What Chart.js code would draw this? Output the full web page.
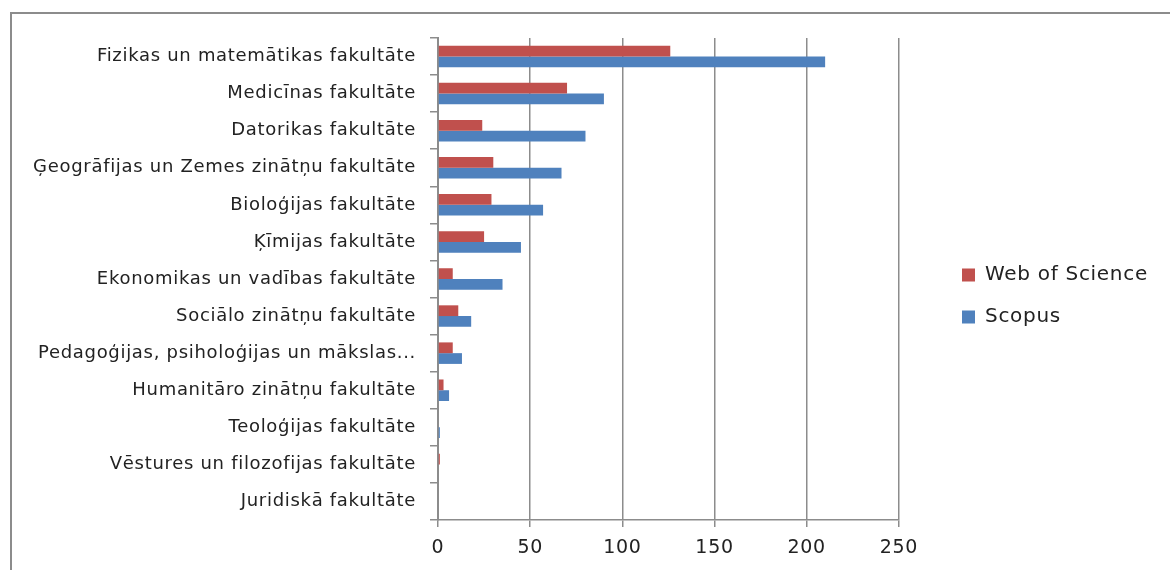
<!DOCTYPE html>
<html>
<head>
<meta charset="utf-8">
<script src="https://cdn.jsdelivr.net/npm/chart.js@4/dist/chart.umd.min.js"></script>
<style>
  html, body { margin: 0; padding: 0; background: #fff; overflow: hidden; }
  #wrap { position: relative; width: 1170px; height: 570px; }
  #c { position: absolute; left: 0; top: 0; }
  #frame { position: absolute; left: 10px; top: 12px; width: 1200px; height: 600px;
           border-top: 2px solid #8c8c8c; border-left: 2px solid #8c8c8c; pointer-events: none; }
</style>
</head>
<body>
<div id="wrap">
  <canvas id="c" width="1170" height="570"></canvas>
  <div id="frame"></div>
</div>
<script>
const categories = [
  "Fizikas un matemātikas fakultāte",
  "Medicīnas fakultāte",
  "Datorikas fakultāte",
  "Ģeogrāfijas un Zemes zinātņu fakultāte",
  "Bioloģijas fakultāte",
  "Ķīmijas fakultāte",
  "Ekonomikas un vadības fakultāte",
  "Sociālo zinātņu fakultāte",
  "Pedagoģijas, psiholoģijas un mākslas...",
  "Humanitāro zinātņu fakultāte",
  "Teoloģijas fakultāte",
  "Vēstures un filozofijas fakultāte",
  "Juridiskā fakultāte"
];
const webOfScience = [126, 70, 24, 30, 29, 25, 8, 11, 8, 3, 0, 1, 0];
const scopus = [210, 90, 80, 67, 57, 45, 35, 18, 13, 6, 1, 0, 0];
const xTicks = [0, 50, 100, 150, 200, 250];

const FONT = "'DejaVu Sans', 'Open Sans', sans-serif";

const legendShift = {
  id: 'legendShift',
  beforeLayout(chart) {
    if ('letterSpacing' in chart.ctx) chart.ctx.letterSpacing = '0px';
  },
  afterLayout(chart) {
    const lg = chart.legend;
    if (!lg) return;
    const w = lg.width;
    lg.left = 940; lg.right = 940 + w + 20;
    lg.top -= 8; lg.bottom -= 8;
  },
  beforeDraw(chart) {
    if ('letterSpacing' in chart.ctx) chart.ctx.letterSpacing = '0.7px';
  },
  afterDraw(chart) {
    if ('letterSpacing' in chart.ctx) chart.ctx.letterSpacing = '0px';
  }
};

new Chart(document.getElementById('c'), {
  type: 'bar',
  data: {
    labels: categories,
    datasets: [
      { label: 'Web of Science', data: webOfScience, backgroundColor: '#C0504D', borderWidth: 0,
        categoryPercentage: 0.58, barPercentage: 1.0 },
      { label: 'Scopus', data: scopus, backgroundColor: '#4F81BD', borderWidth: 0,
        categoryPercentage: 0.58, barPercentage: 1.0 }
    ]
  },
  options: {
    indexAxis: 'y',
    responsive: false,
    animation: false,
    layout: { padding: { left: 10, right: 63, top: 38, bottom: 0 } },
    plugins: {
      legend: {
        position: 'right',
        labels: {
          boxWidth: 13, boxHeight: 13, padding: 22,
          color: '#222',
          font: { family: FONT, size: 20 }
        }
      },
      tooltip: { enabled: false }
    },
    scales: {
      x: {
        min: 0, max: 250,
        afterBuildTicks(scale) { scale.ticks = xTicks.map(v => ({ value: v })); },
        afterFit(scale) { scale.height = 50; },
        grid: { color: '#8c8c8c', lineWidth: 1.5, tickLength: 7, drawTicks: true },
        border: { display: true, color: '#8c8c8c', width: 1.5 },
        ticks: { color: '#222', padding: 10, font: { family: FONT, size: 19 } }
      },
      y: {
        afterFit(scale) { scale.width = 428; },
        grid: { offset: true, drawOnChartArea: false, drawTicks: true, tickLength: 8, color: '#8c8c8c', lineWidth: 1.5 },
        border: { display: true, color: '#8c8c8c', width: 2 },
        ticks: { color: '#222', padding: 14, autoSkip: false, font: { family: FONT, size: 18 } }
      }
    }
  },
  plugins: [legendShift]
});
</script>
</body>
</html>
